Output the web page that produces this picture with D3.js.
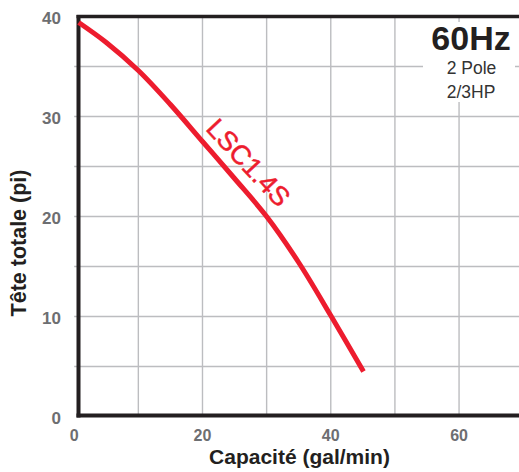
<!DOCTYPE html>
<html>
<head>
<meta charset="utf-8">
<script src="https://cdn.jsdelivr.net/npm/d3@7"></script>
<style>
  html, body { margin: 0; padding: 0; background: #fff; }
  svg { display: block; font-family: "Liberation Sans", Arial, Helvetica, sans-serif; }
</style>
</head>
<body>
<svg id="chart" width="519" height="472"></svg>
<script>
// ---- data ----
const flowGpm = [0.7, 5, 10, 15, 20, 25, 30, 35, 40, 45.1];
const headFt  = [39.4, 37.4, 34.6, 31.2, 27.5, 23.8, 20.0, 15.4, 10.1, 4.5];
const xTicks = [0, 20, 40, 60];
const yTicks = [0, 10, 20, 30, 40];
const xGrid = [10, 20, 30, 40, 50, 60, 70];
const yGrid = [5, 10, 15, 20, 25, 30, 35];
const seriesName = "LSC1.4S";
const labelAt = [20.35, 28.7];
const boxLines = ["60Hz", "2 Pole", "2/3HP"];
const xTitle = "Capacité (gal/min)";
const yTitle = "Tête totale (pi)";

// ---- layout ----
const W = 519, H = 472;
const svg = d3.select("#chart");
const x = d3.scaleLinear().domain([0, 70]).range([74.2, 523.2]);
const y = d3.scaleLinear().domain([0, 40]).range([416.5, 16.5]);

const gridColor = "#bcbdc0";
const frameColor = "#231f20";
const red = "#ed1c2e";
const tickColor = "#6d6e71";

// grid
svg.append("g").selectAll("line").data(xGrid).join("line")
  .attr("x1", d => x(d)).attr("x2", d => x(d))
  .attr("y1", y(40)).attr("y2", y(0))
  .attr("stroke", gridColor).attr("stroke-width", 1.4);
svg.append("g").selectAll("line").data(yGrid).join("line")
  .attr("x1", x(0)).attr("x2", W)
  .attr("y1", d => y(d)).attr("y2", d => y(d))
  .attr("stroke", gridColor).attr("stroke-width", 1.4);

// white box behind the 60Hz annotation
svg.append("rect")
  .attr("x", 423).attr("y", 22).attr("width", 92).attr("height", 80)
  .attr("fill", "#fff");

// frame
const axisX = x(0) + 4.3;
svg.append("line").attr("x1", axisX - 2).attr("x2", W).attr("y1", y(40)).attr("y2", y(40))
  .attr("stroke", frameColor).attr("stroke-width", 3.5);
svg.append("line").attr("x1", axisX - 2).attr("x2", W).attr("y1", y(0) - 1).attr("y2", y(0) - 1)
  .attr("stroke", frameColor).attr("stroke-width", 4);
svg.append("line").attr("x1", axisX).attr("x2", axisX).attr("y1", y(40) - 1.5).attr("y2", y(0) + 1)
  .attr("stroke", frameColor).attr("stroke-width", 4);

// tick labels
svg.append("g").selectAll("text").data(xTicks).join("text")
  .attr("x", d => x(d)).attr("y", 441)
  .attr("text-anchor", "middle")
  .attr("font-size", 16).attr("font-weight", "bold").attr("fill", tickColor)
  .text(d => d);
svg.append("g").selectAll("text").data(yTicks).join("text")
  .attr("x", 61).attr("y", d => y(d) + 1)
  .attr("dy", "0.36em")
  .attr("text-anchor", "end")
  .attr("font-size", 17).attr("font-weight", "bold").attr("fill", tickColor)
  .text(d => d);

// axis titles
svg.append("text")
  .attr("x", 299.5).attr("y", 464)
  .attr("text-anchor", "middle")
  .attr("font-size", 21).attr("font-weight", "bold").attr("fill", frameColor)
  .text(xTitle);
svg.append("text")
  .attr("transform", "translate(25.5,243) rotate(-90)")
  .attr("text-anchor", "middle")
  .attr("font-size", 21.5).attr("font-weight", "bold").attr("fill", frameColor)
  .text(yTitle);

// curve
const pts = flowGpm.map((f, i) => [f, headFt[i]]);
const line = d3.line().x(d => x(d[0])).y(d => y(d[1])).curve(d3.curveCatmullRom.alpha(0.5));
svg.append("path")
  .attr("d", line(pts))
  .attr("fill", "none").attr("stroke", red).attr("stroke-width", 5)
  .attr("stroke-linecap", "butt").attr("stroke-linejoin", "round");

// series label
svg.append("text")
  .attr("transform", `translate(${x(labelAt[0])},${y(labelAt[1])}) rotate(47)`)
  .attr("font-size", 27).attr("fill", red)
  .attr("stroke", red).attr("stroke-width", 0.5)
  .text(seriesName);

// 60Hz annotation
svg.append("text").attr("x", 471).attr("y", 50).attr("text-anchor", "middle")
  .attr("font-size", 34).attr("font-weight", "bold").attr("fill", frameColor)
  .text(boxLines[0]);
svg.append("text").attr("x", 471.5).attr("y", 74).attr("text-anchor", "middle")
  .attr("font-size", 17.5).attr("fill", "#333")
  .text(boxLines[1]);
svg.append("text").attr("x", 471).attr("y", 98).attr("text-anchor", "middle")
  .attr("font-size", 17.5).attr("fill", "#333")
  .text(boxLines[2]);
</script>
</body>
</html>
